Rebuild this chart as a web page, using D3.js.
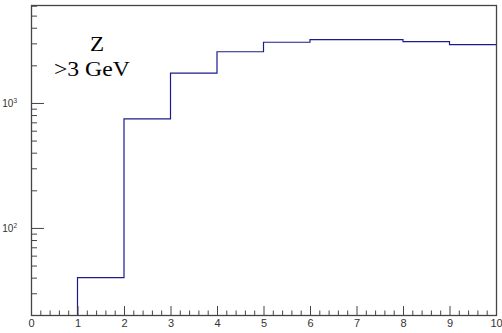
<!DOCTYPE html>
<html>
<head>
<meta charset="utf-8">
<script src="https://cdn.jsdelivr.net/npm/d3@7"></script>
<style>
  body { margin: 0; background: #fff; }
  svg { display: block; }
  .serif { font-family: "Times New Roman", "Liberation Serif", Times, serif; }
</style>
</head>
<body>
<div id="chart"></div>
<script>
// bin edges 0..10, one count per bin (bin 0-1 is empty)
var binEdges = [0, 1, 2, 3, 4, 5, 6, 7, 8, 9, 10];
var binCounts = [0, 40, 745, 1730, 2570, 3060, 3210, 3210, 3095, 2930];
var xTickLabels = ["0", "1", "2", "3", "4", "5", "6", "7", "8", "9", "10"];
var yMajorTicks = [100, 1000];
var yMinorTicks = [30, 40, 50, 60, 70, 80, 90, 200, 300, 400, 500, 600, 700, 800, 900, 2000, 3000, 4000, 5000, 6000];
var labelLines = ["Z", ">3 GeV"];

var width = 502, height = 333;
var margin = {left: 31, top: 5, right: 6, bottom: 18};
var x0 = margin.left, x1 = width - margin.right;
var y0 = height - margin.bottom, y1 = margin.top;
var sans = "'Liberation Sans', Arial, sans-serif";

var svg = d3.select("#chart").append("svg")
  .attr("width", width)
  .attr("height", height);

var x = d3.scaleLinear().domain([0, 10]).range([x0, x1]);
var y = d3.scaleLog().domain([20.1, 6080]).range([y0, y1]);

var axisColor = "#444";

// histogram as a step line, starting at the first non-empty bin
var pts = [];
binCounts.forEach(function(v, i){
  if (v > 0) {
    if (pts.length === 0) pts.push([binEdges[i], y.domain()[0]]);
    pts.push([binEdges[i], v]);
  }
});
pts.push([binEdges[binEdges.length - 1], binCounts[binCounts.length - 1]]);

svg.append("clipPath").attr("id", "frame")
  .append("rect").attr("x", x0).attr("y", y1).attr("width", x1 - x0).attr("height", y0 - y1);

svg.append("path")
  .datum(pts)
  .attr("clip-path", "url(#frame)")
  .attr("fill", "none")
  .attr("stroke", "#1c1c8c")
  .attr("stroke-width", 1.2)
  .attr("d", d3.line()
    .x(function(d){ return x(d[0]); })
    .y(function(d){ return y(d[1]); })
    .curve(d3.curveStepAfter));

// x axis: major ticks with labels, minor ticks every 0.2
var xMinor = d3.range(0, 50).map(function(i){ return i * 0.2; }).filter(function(v){ return Math.abs(v - Math.round(v)) > 1e-6; });
svg.append("g")
  .attr("transform", "translate(0," + y0 + ")")
  .call(d3.axisBottom(x).tickValues(xMinor).tickSize(-4.5).tickFormat(""))
  .call(function(g){ g.select(".domain").remove(); });
var xg = svg.append("g")
  .attr("transform", "translate(0," + y0 + ")")
  .call(d3.axisBottom(x).tickValues(d3.range(0, 11)).tickSize(-9).tickPadding(3)
    .tickFormat(function(d, i){ return xTickLabels[i]; }));
xg.select(".domain").remove();
xg.selectAll("text").attr("y", 4).attr("dy", "0.71em")
  .style("font-family", sans).style("font-size", "11px").attr("fill", "#333");

// y axis: log ticks
svg.append("g")
  .attr("transform", "translate(" + x0 + ",0)")
  .call(d3.axisLeft(y).tickValues(yMinorTicks).tickSize(-6).tickFormat(""))
  .call(function(g){ g.select(".domain").remove(); });
var yg = svg.append("g")
  .attr("transform", "translate(" + x0 + ",0)")
  .call(d3.axisLeft(y).tickValues(yMajorTicks).tickSize(-13).tickFormat(""));
yg.select(".domain").remove();
yg.selectAll(".tick").each(function(d){
  var t = d3.select(this).append("text")
    .attr("x", -14).attr("y", 4)
    .attr("text-anchor", "end")
    .style("font-family", sans)
    .style("font-size", "10px")
    .attr("fill", "#333");
  t.append("tspan").text("10");
  t.append("tspan").attr("dy", -4).style("font-size", "6.5px").text(Math.round(Math.log10(d)));
});
svg.selectAll(".tick line").attr("stroke", axisColor);

// frame
svg.append("rect")
  .attr("x", x0 + 0.5).attr("y", y1 + 0.5)
  .attr("width", x1 - x0).attr("height", y0 - y1)
  .attr("fill", "none")
  .attr("stroke", axisColor)
  .attr("stroke-width", 1.3);

// label text (slightly stretched horizontally, like the original)
svg.append("text")
  .attr("class", "serif")
  .attr("transform", "translate(97,50.7) scale(1.1,1)")
  .attr("text-anchor", "middle")
  .style("font-size", "21px")
  .text(labelLines[0]);
svg.append("text")
  .attr("class", "serif")
  .attr("transform", "translate(54,76) scale(1.1,1)")
  .style("font-size", "21.5px")
  .text(labelLines[1]);
</script>
</body>
</html>
